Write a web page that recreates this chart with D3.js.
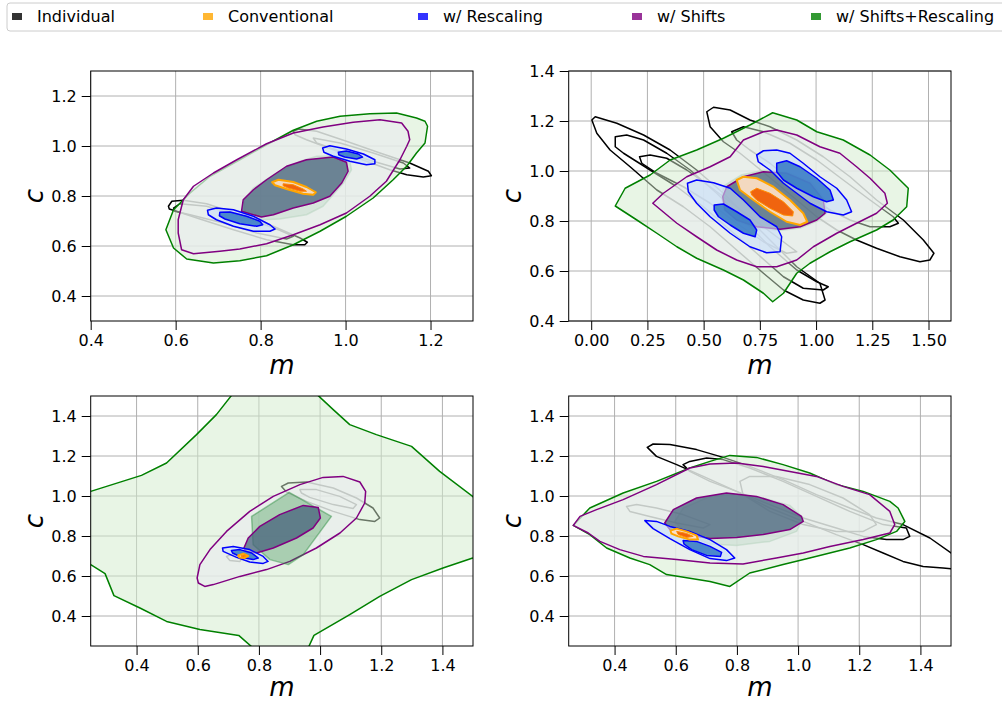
<!DOCTYPE html>
<html>
<head>
<meta charset="utf-8">
<script src="https://cdn.jsdelivr.net/npm/d3@7"></script>
<style>
body{margin:0;background:#fff}
svg{font-family:"DejaVu Sans",sans-serif}
</style>
</head>
<body>
<div id="chart"></div>
<script>
// legend
var legendNames = ["Individual","Conventional","w/ Rescaling","w/ Shifts","w/ Shifts+Rescaling"]
var legendColors = ["rgba(0,0,0,0.8)","rgba(255,165,0,0.8)","rgba(0,0,255,0.8)","rgba(128,0,128,0.8)","rgba(0,128,0,0.8)"]

// ---- panel 1 (top left) ----
var p1Ind = [
 [[0.583,0.759],[0.591,0.779],[0.618,0.783],[0.673,0.769],[0.751,0.725],[0.830,0.679],[0.893,0.632],[0.910,0.615],[0.904,0.605],[0.877,0.605],[0.814,0.625],[0.736,0.665],[0.657,0.708],[0.602,0.739],[0.585,0.748]],
 [[0.595,0.752],[0.610,0.769],[0.673,0.759],[0.767,0.712],[0.845,0.663],[0.877,0.639],[0.861,0.628],[0.791,0.652],[0.712,0.692],[0.634,0.725],[0.598,0.739]],
 [[0.877,1.059],[0.889,1.068],[0.932,1.059],[1.002,1.019],[1.081,0.972],[1.151,0.932],[1.195,0.899],[1.202,0.881],[1.183,0.876],[1.144,0.885],[1.104,0.905],[1.049,0.939],[0.971,0.985],[0.908,1.025],[0.881,1.045]],
 [[0.924,1.032],[0.987,1.012],[1.065,0.972],[1.136,0.932],[1.151,0.912],[1.128,0.908],[1.065,0.939],[0.987,0.979],[0.932,1.012]]
]
var p1GreenOut = [[0.577,0.665],[0.595,0.592],[0.626,0.548],[0.689,0.532],[0.751,0.541],[0.814,0.561],[0.877,0.605],[0.940,0.659],[1.002,0.719],[1.065,0.792],[1.112,0.865],[1.144,0.919],[1.167,0.972],[1.187,1.012],[1.193,1.079],[1.187,1.099],[1.167,1.112],[1.120,1.132],[1.057,1.129],[0.987,1.119],[0.932,1.099],[0.877,1.063],[0.814,1.005],[0.751,0.945],[0.681,0.879],[0.634,0.812],[0.595,0.745]]
var p1GreenIn = [[0.763,0.719],[0.761,0.785],[0.783,0.832],[0.830,0.885],[0.893,0.939],[0.932,0.959],[0.987,0.961],[1.010,0.939],[1.014,0.905],[0.995,0.852],[0.971,0.805],[0.947,0.759],[0.908,0.725],[0.845,0.708],[0.806,0.705]]
var p1ShiftOut = [[0.606,0.652],[0.614,0.585],[0.642,0.569],[0.704,0.579],[0.751,0.588],[0.814,0.609],[0.877,0.645],[0.940,0.685],[1.002,0.732],[1.057,0.799],[1.096,0.859],[1.128,0.945],[1.144,0.999],[1.151,1.025],[1.147,1.059],[1.132,1.092],[1.081,1.105],[1.018,1.095],[0.947,1.076],[0.877,1.052],[0.814,1.009],[0.744,0.945],[0.689,0.892],[0.642,0.839],[0.618,0.785],[0.606,0.705]]
var p1ShiftIn = [[0.755,0.739],[0.759,0.785],[0.783,0.825],[0.814,0.865],[0.861,0.919],[0.908,0.945],[0.971,0.956],[1.002,0.935],[1.006,0.899],[0.991,0.852],[0.963,0.799],[0.924,0.772],[0.877,0.752],[0.830,0.725],[0.802,0.716]]
var p1RescOut = [
 [[0.675,0.743],[0.696,0.752],[0.736,0.745],[0.783,0.719],[0.822,0.685],[0.834,0.668],[0.822,0.659],[0.783,0.659],[0.736,0.679],[0.696,0.705],[0.677,0.725]],
 [[0.946,0.992],[0.963,1.001],[1.002,0.988],[1.042,0.968],[1.069,0.945],[1.069,0.929],[1.049,0.925],[1.010,0.939],[0.971,0.959],[0.949,0.975]]
]
var p1RescIn = [
 [[0.704,0.735],[0.728,0.736],[0.767,0.719],[0.798,0.699],[0.805,0.685],[0.791,0.679],[0.751,0.689],[0.716,0.708],[0.703,0.721]],
 [[0.983,0.975],[1.002,0.980],[1.030,0.968],[1.040,0.956],[1.026,0.948],[0.998,0.956],[0.984,0.965]]
]
var p1ConvOut = [[0.827,0.855],[0.842,0.865],[0.877,0.856],[0.908,0.836],[0.930,0.815],[0.924,0.805],[0.900,0.809],[0.861,0.828],[0.834,0.843]]
var p1ConvIn = [[0.853,0.849],[0.877,0.845],[0.900,0.828],[0.908,0.819],[0.893,0.819],[0.865,0.832],[0.853,0.841]]

// ---- panel 2 (top right) ----
var p2Ind = [
 [[0.003,1.204],[0.018,1.217],[0.114,1.191],[0.233,1.144],[0.351,1.084],[0.469,1.004],[0.588,0.911],[0.706,0.804],[0.825,0.697],[0.914,0.617],[1.017,0.551],[1.040,0.484],[1.017,0.471],[0.943,0.484],[0.855,0.524],[0.766,0.591],[0.647,0.684],[0.529,0.777],[0.410,0.857],[0.292,0.924],[0.173,1.017],[0.084,1.084],[0.025,1.151]],
 [[0.107,1.137],[0.158,1.144],[0.233,1.124],[0.336,1.071],[0.440,1.004],[0.558,0.911],[0.677,0.804],[0.795,0.697],[0.914,0.604],[1.003,0.557],[1.054,0.537],[1.032,0.524],[0.943,0.531],[0.855,0.577],[0.736,0.671],[0.618,0.764],[0.499,0.857],[0.381,0.937],[0.262,1.004],[0.144,1.071],[0.107,1.097]],
 [[0.215,1.057],[0.262,1.064],[0.336,1.051],[0.425,1.004],[0.529,0.937],[0.647,0.857],[0.766,0.777],[0.884,0.697],[0.914,0.677],[0.869,0.671],[0.766,0.717],[0.647,0.791],[0.529,0.871],[0.410,0.937],[0.292,0.991],[0.225,1.031]],
 [[0.514,1.237],[0.544,1.255],[0.618,1.244],[0.706,1.204],[0.795,1.177],[0.914,1.124],[1.032,1.057],[1.151,0.977],[1.269,0.884],[1.388,0.804],[1.477,0.724],[1.524,0.671],[1.506,0.644],[1.462,0.637],[1.373,0.657],[1.269,0.691],[1.180,0.724],[1.092,0.764],[1.003,0.817],[0.914,0.884],[0.825,0.951],[0.736,1.017],[0.662,1.071],[0.588,1.117],[0.529,1.177]],
 [[0.625,1.157],[0.677,1.177],[0.766,1.157],[0.884,1.111],[1.003,1.044],[1.121,0.964],[1.240,0.884],[1.343,0.817],[1.366,0.791],[1.328,0.777],[1.240,0.777],[1.151,0.804],[1.062,0.844],[0.973,0.897],[0.884,0.964],[0.795,1.031],[0.706,1.084],[0.647,1.124]]
]
var p2GreenOut = [[0.107,0.860],[0.151,0.931],[0.262,0.984],[0.351,1.044],[0.469,1.084],[0.588,1.131],[0.706,1.184],[0.807,1.233],[0.914,1.204],[1.003,1.157],[1.121,1.124],[1.240,1.064],[1.328,1.004],[1.410,0.931],[1.403,0.857],[1.343,0.804],[1.269,0.764],[1.151,0.717],[1.062,0.677],[0.973,0.631],[0.914,0.591],[0.855,0.511],[0.807,0.477],[0.766,0.511],[0.677,0.564],[0.588,0.604],[0.469,0.651],[0.381,0.697],[0.292,0.751],[0.203,0.804]]
var p2GreenIn = [[0.590,0.940],[0.670,0.985],[0.770,1.003],[0.875,0.995],[0.980,0.955],[1.040,0.885],[1.045,0.830],[1.005,0.800],[0.930,0.772],[0.840,0.762],[0.735,0.772],[0.645,0.800],[0.590,0.845],[0.580,0.900]]
var p2ShiftOut = [[0.274,0.871],[0.321,0.911],[0.425,0.977],[0.529,1.017],[0.618,1.057],[0.677,1.124],[0.766,1.157],[0.825,1.164],[0.914,1.144],[1.017,1.097],[1.106,1.071],[1.180,1.017],[1.240,0.971],[1.306,0.911],[1.317,0.871],[1.269,0.831],[1.180,0.791],[1.092,0.751],[0.988,0.697],[0.914,0.644],[0.825,0.617],[0.736,0.617],[0.647,0.644],[0.558,0.684],[0.469,0.737],[0.381,0.791]]
var p2ShiftIn = [[0.603,0.937],[0.677,0.977],[0.766,0.997],[0.869,0.991],[0.973,0.951],[1.032,0.884],[1.040,0.831],[1.003,0.804],[0.929,0.777],[0.840,0.767],[0.736,0.777],[0.647,0.804],[0.595,0.844],[0.585,0.897]]
var p2RescOut = [
 [[0.428,0.951],[0.469,0.964],[0.544,0.953],[0.618,0.931],[0.677,0.884],[0.751,0.817],[0.825,0.777],[0.847,0.737],[0.840,0.677],[0.780,0.673],[0.706,0.697],[0.618,0.751],[0.529,0.817],[0.469,0.871],[0.432,0.917]],
 [[0.736,1.064],[0.766,1.081],[0.825,1.084],[0.884,1.071],[0.943,1.031],[1.017,0.977],[1.092,0.931],[1.136,0.884],[1.158,0.837],[1.121,0.824],[1.047,0.837],[0.973,0.871],[0.914,0.911],[0.855,0.951],[0.795,1.004],[0.743,1.037]]
]
var p2RescIn = [
 [[0.547,0.864],[0.588,0.868],[0.647,0.837],[0.706,0.804],[0.736,0.764],[0.729,0.737],[0.677,0.751],[0.618,0.784],[0.566,0.817],[0.547,0.844]],
 [[0.825,1.031],[0.869,1.041],[0.929,1.017],[1.003,0.971],[1.062,0.924],[1.077,0.884],[1.047,0.877],[0.988,0.897],[0.914,0.931],[0.855,0.964],[0.825,0.997]]
]
var p2ConvOut = [[0.647,0.964],[0.677,0.977],[0.736,0.971],[0.810,0.937],[0.884,0.884],[0.943,0.831],[0.961,0.797],[0.929,0.784],[0.869,0.797],[0.795,0.837],[0.721,0.884],[0.662,0.924]]
var p2ConvIn = [[0.709,0.917],[0.736,0.931],[0.795,0.911],[0.855,0.877],[0.899,0.837],[0.896,0.820],[0.855,0.824],[0.795,0.851],[0.736,0.884],[0.714,0.904]]

// ---- panel 3 (bottom left) ----
var p3Ind = [
 [[0.874,1.048],[0.896,1.065],[0.956,1.070],[1.043,1.040],[1.119,0.990],[1.173,0.940],[1.195,0.890],[1.179,0.873],[1.130,0.882],[1.043,0.923],[0.956,0.973],[0.890,1.020]],
 [[0.934,1.032],[0.988,1.032],[1.064,0.998],[1.119,0.957],[1.108,0.937],[1.043,0.957],[0.966,0.993],[0.939,1.015]],
 [[0.694,0.698],[0.716,0.710],[0.749,0.698],[0.738,0.673],[0.705,0.678]]
]
var p3GreenOut = [[0.193,1.007],[0.250,1.023],[0.302,1.048],[0.416,1.103],[0.498,1.165],[0.596,1.307],[0.661,1.407],[0.710,1.502],[0.738,1.557],[0.988,1.557],[0.994,1.502],[1.043,1.432],[1.097,1.357],[1.184,1.307],[1.299,1.248],[1.391,1.123],[1.499,0.998],[1.555,0.923],[1.555,0.723],[1.499,0.690],[1.402,0.640],[1.299,0.582],[1.195,0.498],[1.097,0.407],[0.980,0.303],[0.961,0.240],[0.945,0.173],[0.792,0.173],[0.781,0.240],[0.734,0.303],[0.607,0.332],[0.498,0.373],[0.411,0.440],[0.326,0.502],[0.297,0.612],[0.250,0.657],[0.193,0.690]]
var p3GreenIn = [[0.776,0.898],[0.899,1.018],[1.037,0.898],[0.945,0.707],[0.896,0.657],[0.836,0.682],[0.781,0.757]]
var p3ShiftOut = [[0.598,0.590],[0.607,0.657],[0.640,0.732],[0.694,0.823],[0.770,0.923],[0.847,0.998],[0.934,1.057],[1.010,1.093],[1.075,1.098],[1.130,1.070],[1.149,1.023],[1.146,0.965],[1.119,0.890],[1.065,0.815],[0.988,0.740],[0.901,0.673],[0.825,0.632],[0.738,0.598],[0.651,0.557],[0.623,0.548],[0.602,0.565]]
var p3ShiftIn = [[0.751,0.740],[0.765,0.790],[0.803,0.848],[0.868,0.907],[0.945,0.953],[0.994,0.943],[1.001,0.890],[0.977,0.840],[0.923,0.790],[0.847,0.740],[0.792,0.715],[0.757,0.723]]
var p3RescOut = [[[0.681,0.740],[0.716,0.748],[0.770,0.732],[0.814,0.698],[0.830,0.673],[0.814,0.663],[0.770,0.670],[0.727,0.693],[0.683,0.723]]]
var p3RescIn = [[[0.710,0.727],[0.738,0.732],[0.776,0.715],[0.798,0.690],[0.781,0.682],[0.743,0.693],[0.714,0.715]]]
var p3ConvOut = [[0.732,0.703],[0.749,0.712],[0.765,0.700],[0.754,0.690],[0.736,0.693]]
var p3ConvIn = [[0.742,0.702],[0.752,0.705],[0.758,0.699],[0.750,0.695],[0.742,0.697]]

// ---- panel 4 (bottom right) ----
var p4Ind = [
 [[0.507,1.243],[0.526,1.260],[0.581,1.257],[0.668,1.232],[0.755,1.193],[0.842,1.148],[0.951,1.082],[1.060,1.007],[1.169,0.940],[1.256,0.890],[1.343,0.857],[1.431,0.790],[1.500,0.715],[1.539,0.673],[1.539,0.632],[1.474,0.640],[1.409,0.648],[1.343,0.673],[1.278,0.715],[1.213,0.757],[1.125,0.807],[1.017,0.873],[0.908,0.940],[0.799,1.023],[0.690,1.098],[0.603,1.157],[0.537,1.198]],
 [[0.624,1.157],[0.646,1.173],[0.701,1.190],[0.755,1.182],[0.842,1.140],[0.951,1.073],[1.060,0.998],[1.169,0.923],[1.278,0.857],[1.354,0.840],[1.365,0.798],[1.343,0.782],[1.289,0.782],[1.213,0.798],[1.125,0.840],[1.017,0.890],[0.908,0.957],[0.799,1.023],[0.712,1.073],[0.646,1.123]],
 [[0.810,1.073],[0.842,1.098],[0.929,1.098],[1.038,1.057],[1.147,0.990],[1.234,0.907],[1.256,0.857],[1.213,0.823],[1.125,0.823],[1.017,0.857],[0.908,0.923],[0.820,1.007]],
 [[0.439,0.948],[0.472,0.957],[0.537,0.940],[0.624,0.907],[0.712,0.857],[0.690,0.840],[0.603,0.865],[0.515,0.898],[0.450,0.923]]
]
var p4GreenOut = [[0.265,0.853],[0.319,0.940],[0.428,1.015],[0.537,1.073],[0.646,1.140],[0.712,1.173],[0.777,1.203],[0.864,1.193],[0.951,1.157],[1.038,1.115],[1.125,1.057],[1.213,1.023],[1.300,0.973],[1.327,0.940],[1.349,0.873],[1.322,0.823],[1.256,0.782],[1.169,0.740],[1.038,0.690],[0.951,0.657],[0.842,0.615],[0.777,0.548],[0.712,0.573],[0.570,0.607],[0.515,0.657],[0.450,0.690],[0.374,0.740],[0.319,0.807]]
var p4GreenIn = [[0.597,0.873],[0.624,0.940],[0.712,0.998],[0.799,1.010],[0.886,0.990],[0.973,0.953],[1.017,0.890],[0.995,0.823],[0.908,0.773],[0.799,0.753],[0.712,0.760],[0.635,0.807]]
var p4ShiftOut = [[0.265,0.853],[0.287,0.898],[0.341,0.932],[0.428,0.982],[0.537,1.057],[0.646,1.140],[0.712,1.160],[0.799,1.165],[0.886,1.148],[0.973,1.123],[1.060,1.098],[1.147,1.048],[1.234,1.007],[1.300,0.923],[1.316,0.857],[1.300,0.815],[1.213,0.782],[1.104,0.748],[1.017,0.715],[0.929,0.690],[0.820,0.660],[0.712,0.665],[0.603,0.682],[0.494,0.698],[0.417,0.732],[0.352,0.773],[0.314,0.815]]
var p4ShiftIn = [[0.564,0.865],[0.592,0.932],[0.668,0.990],[0.766,1.015],[0.864,0.998],[0.951,0.957],[1.011,0.898],[1.017,0.873],[0.973,0.832],[0.886,0.807],[0.799,0.793],[0.712,0.787],[0.635,0.807],[0.581,0.832]]
var p4RescOut = [[[0.499,0.877],[0.537,0.873],[0.581,0.848],[0.646,0.823],[0.712,0.782],[0.766,0.732],[0.793,0.690],[0.766,0.677],[0.712,0.687],[0.646,0.732],[0.581,0.787],[0.526,0.837]]]
var p4RescIn = [[[0.624,0.777],[0.668,0.773],[0.712,0.748],[0.750,0.718],[0.746,0.698],[0.701,0.703],[0.652,0.732],[0.627,0.760]]]
var p4ConvOut = [[0.583,0.827],[0.603,0.837],[0.635,0.823],[0.668,0.803],[0.673,0.782],[0.646,0.782],[0.608,0.798],[0.586,0.812]]
var p4ConvIn = [[0.603,0.823],[0.635,0.813],[0.657,0.798],[0.635,0.793],[0.608,0.807]]

// ticks
var ticksA = [0.4,0.6,0.8,1.0,1.2]
var ticksB = [0.4,0.6,0.8,1.0,1.2,1.4]
var ticksM2 = [0.00,0.25,0.50,0.75,1.00,1.25,1.50]

var styles = {
  ind:{fill:"none",stroke:"#000",w:1.5},
  greenOut:{fill:"rgba(210,236,204,0.5)",stroke:"#008000",w:1.5},
  greenIn:{fill:"rgba(40,140,60,0.33)",stroke:"rgba(40,140,60,0.45)",w:1.5},
  shiftOut:{fill:"rgba(234,236,238,0.7)",stroke:"#800080",w:1.5},
  shiftIn:{fill:"rgba(71,97,124,0.75)",stroke:"#800080",w:1.5},
  rescOut:{fill:"rgba(200,222,250,0.6)",stroke:"#0000ff",w:1.5},
  rescIn:{fill:"rgba(50,120,195,0.85)",stroke:"#0000ff",w:1.5},
  convOut:{fill:"rgba(255,225,195,0.92)",stroke:"#ffa500",w:2},
  convIn:{fill:"#f0640f",stroke:"#ff8c00",w:1}
}

var panels = [
 {x0:90.7,x1:473,y0:71,y1:321,xd:[0.4,1.3],yd:[0.3,1.3],xt:ticksA,yt:ticksA,xf:".1f",my:53,
  layers:[["ind",p1Ind],["greenOut",[p1GreenOut]],["greenIn",[p1GreenIn]],["shiftOut",[p1ShiftOut]],["shiftIn",[p1ShiftIn]],["rescOut",p1RescOut],["rescIn",p1RescIn],["convOut",[p1ConvOut]],["convIn",[p1ConvIn]]]},
 {x0:568.7,x1:951,y0:71,y1:321,xd:[-0.1,1.6],yd:[0.4,1.4],xt:ticksM2,yt:ticksB,xf:".2f",my:53,
  layers:[["ind",p2Ind],["greenOut",[p2GreenOut]],["greenIn",[p2GreenIn]],["shiftOut",[p2ShiftOut]],["shiftIn",[p2ShiftIn]],["rescOut",p2RescOut],["rescIn",p2RescIn],["convOut",[p2ConvOut]],["convIn",[p2ConvIn]]]},
 {x0:90.7,x1:473,y0:396,y1:646,xd:[0.25,1.5],yd:[0.25,1.5],xt:ticksB,yt:ticksB,xf:".1f",my:50,
  layers:[["ind",p3Ind],["greenOut",[p3GreenOut]],["shiftOut",[p3ShiftOut]],["greenIn",[p3GreenIn]],["shiftIn",[p3ShiftIn]],["rescOut",p3RescOut],["rescIn",p3RescIn],["convOut",[p3ConvOut]],["convIn",[p3ConvIn]]]},
 {x0:568.7,x1:951,y0:396,y1:646,xd:[0.25,1.5],yd:[0.25,1.5],xt:ticksB,yt:ticksB,xf:".1f",my:50,
  layers:[["ind",p4Ind],["greenOut",[p4GreenOut]],["greenIn",[p4GreenIn]],["shiftOut",[p4ShiftOut]],["shiftIn",[p4ShiftIn]],["rescOut",p4RescOut],["rescIn",p4RescIn],["convOut",[p4ConvOut]],["convIn",[p4ConvIn]]]}
]

var svg = d3.select("#chart").append("svg")
 .attr("width",1002)
 .attr("height",702)

panels.forEach(function(p,i){
  var x = d3.scaleLinear().domain(p.xd).range([p.x0,p.x1])
  var y = d3.scaleLinear().domain(p.yd).range([p.y1,p.y0])
  var g = svg.append("g")

  g.append("clipPath").attr("id","clip"+i)
   .append("rect").attr("x",p.x0).attr("y",p.y0).attr("width",p.x1-p.x0).attr("height",p.y1-p.y0)

  // grid
  g.selectAll(".gx").data(p.xt).enter().append("line")
   .attr("x1",d=>x(d)).attr("x2",d=>x(d)).attr("y1",p.y0).attr("y2",p.y1)
   .attr("stroke","#b0b0b0").attr("stroke-width",1)
  g.selectAll(".gy").data(p.yt).enter().append("line")
   .attr("y1",d=>y(d)).attr("y2",d=>y(d)).attr("x1",p.x0).attr("x2",p.x1)
   .attr("stroke","#b0b0b0").attr("stroke-width",1)

  var line = d3.line().x(d=>x(d[0])).y(d=>y(d[1])).curve(d3.curveLinearClosed)
  var plot = g.append("g").attr("clip-path","url(#clip"+i+")")
  p.layers.forEach(function(l){
    var s = styles[l[0]]
    plot.selectAll(null).data(l[1]).enter().append("path")
     .attr("d",line)
     .attr("fill",s.fill)
     .attr("stroke",s.stroke)
     .attr("stroke-width",s.w)
     .attr("stroke-linejoin","round")
  })

  // frame
  g.append("rect").attr("x",p.x0).attr("y",p.y0).attr("width",p.x1-p.x0).attr("height",p.y1-p.y0)
   .attr("fill","none").attr("stroke","#000").attr("stroke-width",1)

  var ax = g.append("g").attr("transform","translate(0,"+p.y1+")")
   .call(d3.axisBottom(x).tickValues(p.xt).tickFormat(d3.format(p.xf)).tickSize(9).tickSizeOuter(0).tickPadding(5))
  var ay = g.append("g").attr("transform","translate("+p.x0+",0)")
   .call(d3.axisLeft(y).tickValues(p.yt).tickFormat(d3.format(".1f")).tickSize(9).tickSizeOuter(0).tickPadding(5))
  ;[ax,ay].forEach(function(a){
    a.select(".domain").remove()
    a.selectAll("text").style("font-size","16px").style("font-family","DejaVu Sans").attr("fill","#000")
    a.selectAll("line").attr("stroke","#000")
  })

  g.append("text")
   .attr("x",(p.x0+p.x1)/2).attr("y",p.y1+p.my)
   .attr("text-anchor","middle")
   .style("font-size","26px").style("font-style","italic")
   .text("m")
  g.append("text")
   .attr("transform","translate("+(p.x0-48)+","+((p.y0+p.y1)/2)+")rotate(-90)")
   .attr("text-anchor","middle")
   .style("font-size","26px").style("font-style","italic")
   .text("c")
})

// legend
var leg = svg.append("g")
leg.append("rect").attr("x",7).attr("y",3).attr("width",1010).attr("height",28).attr("rx",3)
 .attr("fill","#fff").attr("stroke","#cccccc")
var legX = [12,203,418,632,811]
legendNames.forEach(function(n,i){
  leg.append("rect").attr("x",legX[i]).attr("y",13).attr("width",10).attr("height",7).attr("fill",legendColors[i])
  leg.append("text").attr("x",legX[i]+25).attr("y",22).style("font-size","16px").text(n)
})
</script>
</body>
</html>
